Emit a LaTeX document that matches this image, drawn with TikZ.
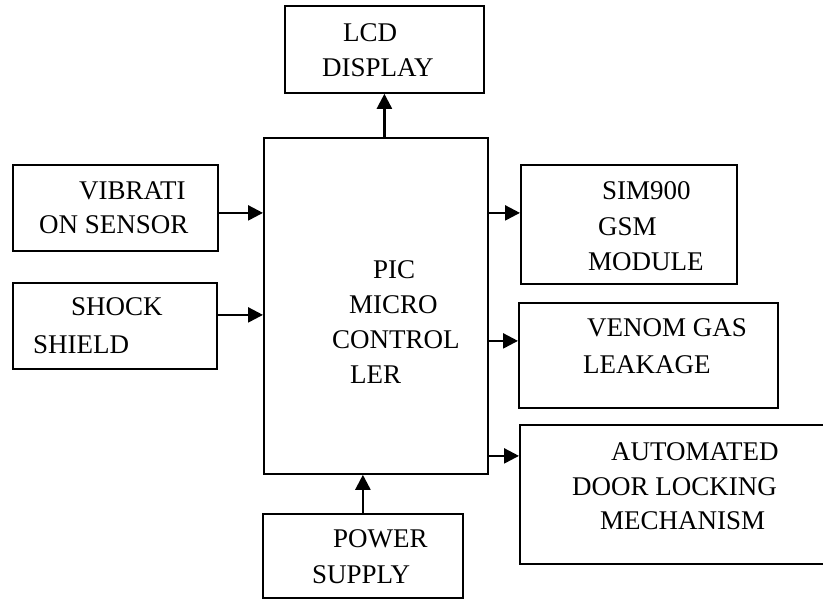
\documentclass[tikz,border=0pt]{standalone}
\usepackage{fontspec}
\setmainfont{Liberation Serif}
\usetikzlibrary{arrows.meta}
\begin{document}
\begin{tikzpicture}[x=1pt,y=-1pt,
  box/.style={draw,line width=1.8pt,anchor=north west,inner sep=0pt},
  txt/.style={anchor=base west,inner sep=0pt,font=\fontsize{27}{30}\selectfont},
  arr/.style={line width=2.4pt,-{Triangle[length=15pt,width=15pt]}}]
\useasboundingbox (0,0) rectangle (823,599);
% boxes
\node[box,minimum width=199pt,minimum height=87pt] (lcd) at (284,5) {};
\node[box,minimum width=224pt,minimum height=336pt] (main) at (263,137) {};
\node[box,minimum width=205pt,minimum height=86pt] (vib) at (12,164) {};
\node[box,minimum width=204pt,minimum height=86pt] (shock) at (12,282) {};
\node[box,minimum width=216pt,minimum height=119pt] (sim) at (520,164) {};
\node[box,minimum width=259pt,minimum height=105pt] (venom) at (518,302) {};
\node[box,minimum width=308pt,minimum height=139pt] (auto) at (519,424) {};
\node[box,minimum width=200pt,minimum height=84pt] (power) at (262,513) {};
% texts
\node[txt] (lcd1) at (343,41.7) {LCD};
\node[txt] (lcd2) at (322,76.7) {DISPLAY};
\node[txt] (main1) at (373,278) {PIC};
\node[txt] (main2) at (349,313) {MICRO};
\node[txt] (main3) at (332,348) {CONTROL};
\node[txt] (main4) at (350,383) {LER};
\node[txt] (vib1) at (79,200) {VIBRATI};
\node[txt] (vib2) at (39,234) {ON SENSOR};
\node[txt] (shock1) at (71,316) {SHOCK};
\node[txt] (shock2) at (33,353) {SHIELD};
\node[txt] (sim1) at (602,200) {SIM900};
\node[txt] (sim2) at (598,236) {GSM};
\node[txt] (sim3) at (588,271) {MODULE};
\node[txt] (venom1) at (587,336) {VENOM GAS};
\node[txt] (venom2) at (583,373) {LEAKAGE};
\node[txt] (auto1) at (611,460) {AUTOMATED};
\node[txt] (auto2) at (572,495) {DOOR LOCKING};
\node[txt] (auto3) at (600,529) {MECHANISM};
\node[txt] (power1) at (333,547) {POWER};
\node[txt] (power2) at (312,583) {SUPPLY};
% connectors
\draw[arr] (main.north -| lcd.south) -- (lcd.south);
\draw[arr] ([yshift=-5pt]vib.east) -- ([yshift=-5pt]vib.east -| main.west);
\draw[arr] ([yshift=11pt]shock.east) -- ([yshift=11pt]shock.east -| main.west);
\draw[arr] ([yshift=11.5pt]sim.west -| main.east) -- ([yshift=11.5pt]sim.west);
\draw[arr] ([yshift=14.5pt]venom.west -| main.east) -- ([yshift=14.5pt]venom.west);
\draw[arr] ([yshift=38.5pt]auto.west -| main.east) -- ([yshift=38.5pt]auto.west);
\draw[arr] (power.north) -- (power.north |- main.south);
\end{tikzpicture}
\end{document}
